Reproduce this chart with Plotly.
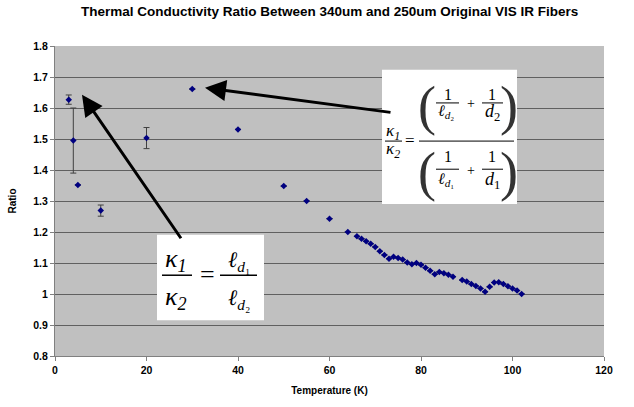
import plotly.graph_objects as go

# ---- data ----
temperature = [3, 4, 5, 10, 20, 30, 40, 50, 55, 60, 64, 66, 67, 68, 69, 70, 71, 72, 73, 74,
               75, 76, 77, 78, 79, 80, 81, 82, 83, 84, 85, 86, 87, 89, 90, 91, 92, 93, 94,
               95, 96, 97, 98, 99, 100, 101, 102]
ratio = [1.627, 1.495, 1.352, 1.269, 1.503, 1.661, 1.531, 1.348, 1.300, 1.243, 1.200, 1.186,
         1.178, 1.170, 1.162, 1.152, 1.138, 1.126, 1.114, 1.120, 1.116, 1.111, 1.102, 1.096,
         1.100, 1.094, 1.085, 1.075, 1.064, 1.071, 1.067, 1.062, 1.056, 1.045, 1.040, 1.032,
         1.026, 1.018, 1.007, 1.023, 1.037, 1.038, 1.032, 1.025, 1.018, 1.011, 1.000]
ratio_err = [0.015, 0.105, None, 0.018, 0.034] + [None] * 42

x_ticks = [0, 20, 40, 60, 80, 100, 120]
y_ticks = [0.8, 0.9, 1.0, 1.1, 1.2, 1.3, 1.4, 1.5, 1.6, 1.7, 1.8]

# ---- layout geometry (pixel -> axis coords for annotations) ----
L, R, T, B = 55, 604, 46, 358
def X(px):
    return (px - L) / (R - L) * 120
def Y(py):
    return 0.8 + (B - py) / (B - T) * 1.0

fig = go.Figure()
fig.add_trace(go.Scatter(
    x=temperature, y=ratio, mode="markers",
    marker=dict(symbol="diamond", size=5, color="#000080"),
    error_y=dict(type="data", array=ratio_err, symmetric=True, visible=True,
                 color="#404040", thickness=1, width=3),
    showlegend=False, hoverinfo="x+y"))

serif = "Liberation Serif"
shapes = []
annotations = []

def txt(px, py, s, size, italic=False):
    if italic:
        s = "<i>" + s + "</i>"
    annotations.append(dict(x=X(px), y=Y(py), xref="x", yref="y", text=s, showarrow=False,
                            font=dict(family=serif, size=size, color="black"),
                            xanchor="center", yanchor="middle"))

def hline(px0, px1, py, w=1):
    shapes.append(dict(type="line", xref="x", yref="y", x0=X(px0), x1=X(px1), y0=Y(py), y1=Y(py),
                       line=dict(color="black", width=w)))

# white boxes
for (a, b, c, d) in [(382, 517, 70, 205), (157, 264, 236, 322)]:
    shapes.append(dict(type="rect", xref="x", yref="y", x0=X(a), x1=X(b), y0=Y(d), y1=Y(c),
                       fillcolor="white", line=dict(width=0), layer="above"))

# equation 1 (right box)
txt(393, 133, "κ<sub>1</sub>", 17, True)
hline(385, 402, 141.7)
txt(393, 151, "κ<sub>2</sub>", 17, True)
txt(410, 141, "=", 17)
hline(419, 514, 141.7)
for (ycen, yone, yline, yden, sub) in [(106, 95, 103.3, 112, "2"), (173, 157, 170, 180, "1")]:
    for (px, ch) in [(427, "("), (509, ")")]:
        annotations.append(dict(x=X(px), y=Y(ycen), xref="x", yref="y", text=ch, showarrow=False,
                                font=dict(family=serif, size=54, color="#333333"),
                                xanchor="center", yanchor="middle"))
    txt(448, yone, "1", 16)
    hline(436, 459, yline)
    txt(446, yden, "<i>ℓ</i><sub><i>d</i>" + ("₂" if sub == "2" else "₁") + "</sub>", 16)
    txt(471, yline + 1, "+", 14)
    txt(492, yone, "1", 16)
    hline(482, 503, yline)
    txt(492, yden + 1, "<i>d</i><sub>" + sub + "</sub>", 18)

# equation 2 (left box)
txt(176, 261, "κ<sub>1</sub>", 26, True)
hline(162, 192, 276.7, 1.5)
txt(176, 300, "κ<sub>2</sub>", 26, True)
txt(207, 276, "=", 26)
hline(220, 257, 276.7, 1.5)
txt(239, 262, "<i>ℓ</i><sub><i>d</i>₁</sub>", 22)
txt(239, 301, "<i>ℓ</i><sub><i>d</i>₂</sub>", 22)

# arrows
for (hx, hy, tx, ty) in [(205, 88, 392, 113), (82, 95, 182, 241)]:
    annotations.append(dict(x=X(hx), y=Y(hy), ax=X(tx), ay=Y(ty), xref="x", yref="y",
                            axref="x", ayref="y", text="", showarrow=True, arrowhead=2,
                            arrowsize=1.4, arrowwidth=3, arrowcolor="black", standoff=0))

annotations.append(dict(x=0.5, y=1, xref="paper", yref="paper", yshift=25,
                        text="Thermal Conductivity Ratio Between 340um and 250um Original VIS IR Fibers",
                        showarrow=False, xanchor="center", yanchor="bottom",
                        font=dict(family="Liberation Sans", size=13.5, color="black", weight="bold")))

fig.update_layout(
    width=634, height=407,
    margin=dict(l=L, r=634 - R, t=T, b=407 - B, pad=0),
    paper_bgcolor="white", plot_bgcolor="#C0C0C0",
    shapes=shapes, annotations=annotations,
    font=dict(family="Liberation Sans", size=10, color="black"),
)

tick_font = dict(family="Liberation Sans", size=10.5, color="black", weight="bold")
fig.update_xaxes(range=[0, 120], tickvals=x_ticks, tickfont=tick_font,
                 showgrid=False, zeroline=False, showline=True, linecolor="#808080", linewidth=1,
                 ticks="outside", ticklen=4, tickcolor="#808080",
                 title=dict(text="Temperature (K)", standoff=12,
                            font=dict(family="Liberation Sans", size=10, weight="bold")))
fig.update_yaxes(range=[0.8, 1.8], tickvals=y_ticks,
                 ticktext=[f"{v:g}" for v in y_ticks], tickfont=tick_font,
                 showgrid=True, gridcolor="#606060", gridwidth=1, zeroline=False,
                 showline=True, linecolor="#808080", linewidth=1,
                 ticks="outside", ticklen=4, tickcolor="#808080",
                 title=dict(text="Ratio", standoff=14,
                            font=dict(family="Liberation Sans", size=10, weight="bold")))

fig.write_html("out.html")
